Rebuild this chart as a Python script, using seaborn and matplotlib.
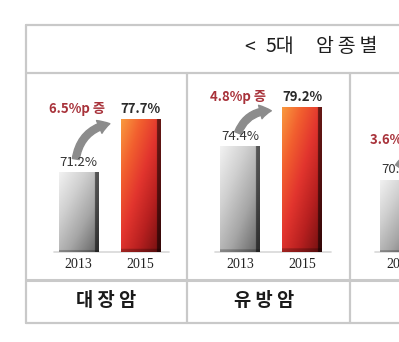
import numpy as np
import pandas as pd
import matplotlib
matplotlib.use("Agg")
import matplotlib.pyplot as plt
import seaborn as sns
from matplotlib.colors import LinearSegmentedColormap
from matplotlib.patches import FancyArrowPatch

# ---------------- data ----------------
cancers = ["대장암", "유방암", "위암"]
years = ["2013", "2015"]
rate_2013 = [71.2, 74.4, 70.3]
rate_2015 = [77.7, 79.2, 73.9]
title_parts = ["<", "5대", "암종별"]

sns.set_theme(style="white")
plt.rcParams["font.family"] = ["Noto Sans CJK KR", "DejaVu Sans"]

W, H = 399, 342
fig = plt.figure(figsize=(W / 100, H / 100), dpi=100)
fig.patch.set_facecolor("white")

# background axes in pixel coordinates for table frame
bg = fig.add_axes([0, 0, 1, 1])
bg.set_xlim(0, W)
bg.set_ylim(H, 0)
bg.axis("off")

lc = "#c9c9c9"
lw = 1.6
left, top, hdr, sep, bottom = 26, 25, 73, 280, 323
col_x = [187, 350]
bg.plot([left, W + 5], [top, top], color=lc, lw=lw)
bg.plot([left, left], [top, bottom], color=lc, lw=lw)
bg.plot([left, W + 5], [hdr, hdr], color=lc, lw=lw)
bg.plot([left, W + 5], [sep, sep], color=lc, lw=2.2)
bg.plot([left, W + 5], [bottom, bottom], color=lc, lw=lw)
for cx in col_x:
    bg.plot([cx, cx], [hdr, bottom], color=lc, lw=lw)

# header title (partially visible)
bg.text(244, 47, title_parts[0], fontsize=14, ha="left", va="center", color="#1e1e1e")
bg.text(266, 47, title_parts[1], fontsize=14, ha="left", va="center", color="#1e1e1e")
bg.text(316, 47, "\u2009".join(title_parts[2]), fontsize=14, ha="left", va="center",
        color="#1e1e1e", family=["DejaVu Sans", "Noto Sans CJK KR"])

# bottom labels
label_centers = [106.5, 264, 430]
for name, cxp in zip(cancers, label_centers):
    bg.text(cxp, 301, " ".join(name), fontsize=13.5, fontweight="bold",
            ha="center", va="center", color="#1a1a1a")

# gradients
gray_cmap = LinearSegmentedColormap.from_list(
    "g", ["#f2f2f2", "#d0d0d0", "#a6a6a6", "#6a6a6a"])
red_cmap = LinearSegmentedColormap.from_list(
    "r", ["#f99a3e", "#f2602f", "#e2352e", "#b82020", "#7a1212"])

def gradient_img(cmap):
    n = 120
    xx, yy = np.meshgrid(np.linspace(0, 1, n), np.linspace(0, 1, n))
    t = np.clip(0.55 * yy + 0.5 * xx, 0, 1)
    img = cmap(t)
    edge = xx > 0.9
    img[edge, :3] *= 0.45
    bot = yy > 0.98
    img[bot, :3] *= 0.75
    return img

ymin, ymax = 61.5, 81.25
ax_top, ax_bot = 90, 252
panel_centers = [109.5, 271, 431]
half = 62

for i in range(len(cancers)):
    cxp = panel_centers[i]
    ax = fig.add_axes([(cxp - half) / W, (H - ax_bot) / H,
                       2 * half / W, (ax_bot - ax_top) / H])
    ax.patch.set_alpha(0)
    df = pd.DataFrame({"year": years, "value": [rate_2013[i], rate_2015[i]]})
    sns.barplot(data=df, x="year", y="value", hue="year", palette=["#bbbbbb", "#e84030"],
                width=0.63, legend=False, ax=ax, saturation=1)
    ax.set_ylim(ymin, ymax)
    ax.set_xlim(-0.5, 1.5)
    for s in ax.spines.values():
        s.set_visible(False)
    ax.set_yticks([])
    ax.set_xlabel("")
    ax.set_ylabel("")
    ax.tick_params(axis="x", length=0, pad=4)
    for lab in ax.get_xticklabels():
        lab.set_fontfamily("Liberation Serif")
        lab.set_fontsize(10)
        lab.set_color("#222222")
    ax.axhline(ymin, color="#d8d8d8", lw=1.2, xmin=0.05, xmax=0.98, clip_on=False)

    for j, p in enumerate(ax.patches[:2]):
        x0, y0 = p.get_x(), p.get_y()
        w, h = p.get_width(), p.get_height()
        y0 = max(y0, ymin)
        im = ax.imshow(gradient_img(gray_cmap if j == 0 else red_cmap),
                       extent=[x0, x0 + w, y0, p.get_y() + h], aspect="auto",
                       origin="upper", zorder=3)
        im.set_clip_path(p)
        ax.set_xlim(-0.5, 1.5)
        ax.set_ylim(ymin, ymax)

    v13, v15 = rate_2013[i], rate_2015[i]
    ax.text(0, v13 + 1.2, f"{v13:.1f}%", ha="center", va="center",
            fontsize=9.5, color="#333333", zorder=5)
    ax.text(1, v15 + 1.2, f"{v15:.1f}%", ha="center", va="center",
            fontsize=9.5, fontweight="bold", color="#2a2a2a", zorder=5)
    diff = v15 - v13
    ax.text(-0.03, v15 + 1.2, f"{diff:.1f}%p 증", ha="center", va="center",
            fontsize=9.5, fontweight="bold", color="#a8323a", zorder=5)
    arr = FancyArrowPatch((-0.05, v13 + 1.3), (0.55, v15 - 0.5),
                          connectionstyle="arc3,rad=-0.38",
                          arrowstyle="simple,head_width=1.0,head_length=0.8,tail_width=0.5",
                          mutation_scale=10, color="#8c8c8c", zorder=4, clip_on=False)
    ax.add_patch(arr)

fig.savefig("out.png", dpi=100, facecolor="white")
